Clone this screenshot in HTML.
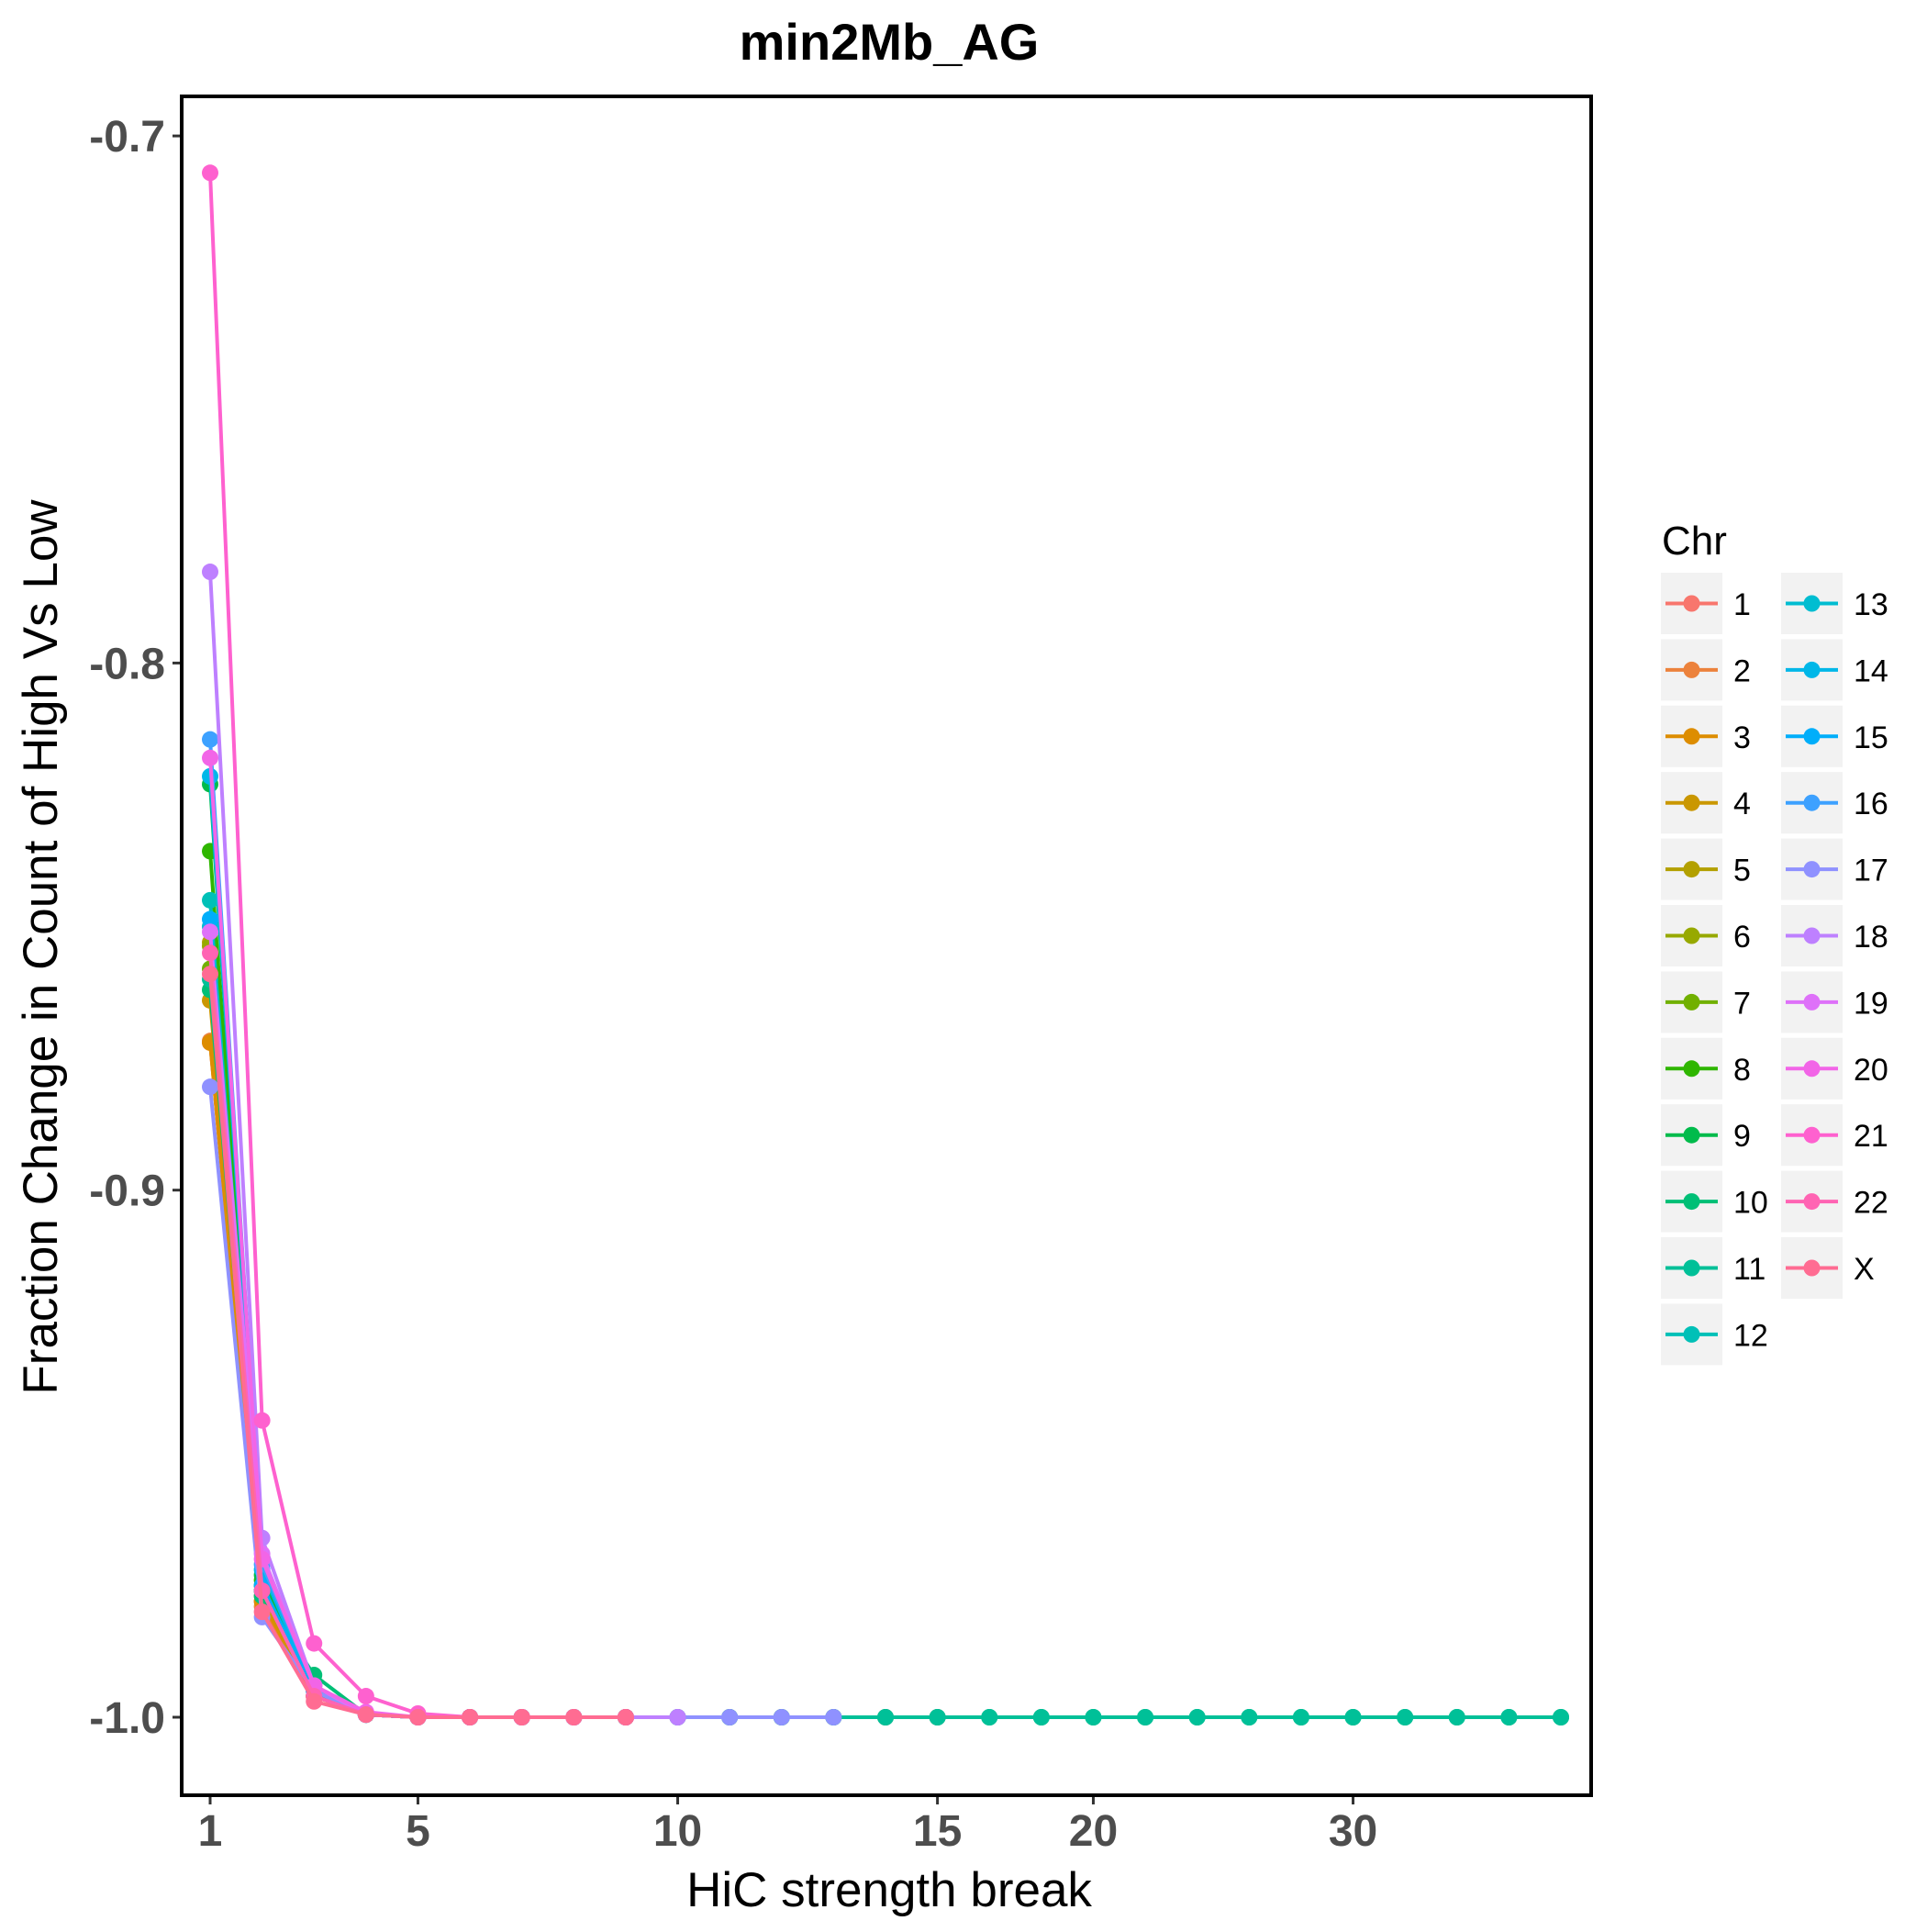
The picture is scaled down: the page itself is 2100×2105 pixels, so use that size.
<!DOCTYPE html>
<html><head><meta charset="utf-8"><style>
html,body{margin:0;padding:0;background:#fff;}
svg text{font-family:"Liberation Sans",sans-serif;}
</style></head><body>
<svg id="chart" width="2100" height="2100" viewBox="0 0 2100 2100" xmlns="http://www.w3.org/2000/svg">
<text x="969" y="65" text-anchor="middle" font-size="56" font-weight="bold">min2Mb_AG</text>
<g id="plot"></g>
<text x="969" y="2077" text-anchor="middle" font-size="53">HiC strength break</text>
<text transform="translate(62,1032) rotate(-90)" text-anchor="middle" font-size="53">Fraction Change in Count of High Vs Low</text>
<g id="legend"></g>
</svg>
<script>
const categories = ["1","2","3","4","5","6","7","8","9","10","11","12","13","14","15","16","18","20","22","24","26","28","30","32","34","36","38"];
const xTickLabels = ["1","5","10","15","20","30"];
const yTicks = [-0.7,-0.8,-0.9,-1.0];
const yTickLabels = ["-0.7","-0.8","-0.9","-1.0"];
const chrNames = ["1","2","3","4","5","6","7","8","9","10","11","12","13","14","15","16","17","18","19","20","21","22","X"];
const v1 = [-0.872,-0.978,-0.996,-0.9995,-1,-1,-1,-1,-1,-1,-1,-1,-1,-1,-1];
const v2 = [-0.8717,-0.979,-0.996,-0.9995,-1,-1,-1,-1,-1];
const v3 = [-0.872,-0.978,-0.996,-0.9995,-1,-1,-1,-1,-1];
const v4 = [-0.864,-0.977,-0.996,-0.9995,-1,-1,-1,-1,-1];
const v5 = [-0.853,-0.976,-0.995,-0.9995,-1,-1,-1,-1,-1];
const v6 = [-0.8537,-0.976,-0.995,-0.9995,-1,-1,-1,-1,-1];
const v7 = [-0.858,-0.975,-0.995,-0.9995,-1,-1,-1,-1,-1];
const v8 = [-0.8357,-0.974,-0.995,-0.9995,-1,-1,-1,-1,-1];
const v9 = [-0.823,-0.973,-0.994,-0.9995,-1,-1,-1,-1,-1];
const v10 = [-0.862,-0.977,-0.992,-0.9995,-1,-1,-1,-1,-1,-1,-1,-1,-1,-1,-1,-1,-1,-1,-1,-1,-1,-1,-1,-1,-1,-1,-1];
const v11 = [-0.86,-0.976,-0.995,-0.9995,-1,-1,-1,-1,-1,-1,-1,-1,-1,-1,-1,-1,-1,-1,-1,-1,-1,-1,-1,-1,-1,-1,-1];
const v12 = [-0.845,-0.975,-0.995,-0.9995,-1,-1,-1,-1,-1];
const v13 = [-0.85,-0.976,-0.995,-0.9995,-1,-1,-1,-1,-1];
const v14 = [-0.8215,-0.972,-0.995,-0.9995,-1,-1,-1,-1,-1];
const v15 = [-0.8486,-0.975,-0.995,-0.9995,-1,-1,-1,-1,-1];
const v16 = [-0.8145,-0.971,-0.994,-0.9995,-1,-1,-1,-1,-1];
const v17 = [-0.8804,-0.981,-0.995,-0.9995,-1,-1,-1,-1,-1,-1,-1,-1,-1];
const v18 = [-0.7827,-0.966,-0.994,-0.9995,-1,-1,-1,-1,-1,-1];
const v19 = [-0.851,-0.969,-0.994,-0.9995,-1,-1,-1,-1,-1];
const v20 = [-0.818,-0.97,-0.994,-0.999,-1,-1,-1,-1,-1];
const v21 = [-0.707,-0.9437,-0.986,-0.996,-0.9993,-1,-1,-1,-1];
const v22 = [-0.855,-0.976,-0.996,-0.9995,-1,-1,-1,-1,-1];
const vX = [-0.859,-0.98,-0.997,-0.9995,-1,-1,-1,-1,-1];
const seriesValues = [v1,v2,v3,v4,v5,v6,v7,v8,v9,v10,v11,v12,v13,v14,v15,v16,v17,v18,v19,v20,v21,v22,vX];

const NS="http://www.w3.org/2000/svg";
const P={l:198,r:1734,t:105,b:1956};
const x0=229, xStep=(1701-229)/26;
function xScale(i){return x0+i*xStep;}
function yScale(v){return 1871+(v+1.0)*(-5743);}
function hcl(h,c,l){
  const hr=h*Math.PI/180, U=c*Math.cos(hr), V=c*Math.sin(hr);
  const Y=l>8?Math.pow((l+16)/116,3):l/903.3;
  const un=0.1978398,vn=0.4683363;
  const u=U/(13*l)+un, v=V/(13*l)+vn;
  const X=9*Y*u/(4*v), Z=-X/3-5*Y+3*Y/v;
  let r=3.240479*X-1.53715*Y-0.498535*Z, g=-0.969256*X+1.875992*Y+0.041556*Z, b=0.055648*X-0.204043*Y+1.057311*Z;
  const f=t=>{t=t<=0.0031308?12.92*t:1.055*Math.pow(t,1/2.4)-0.055;return Math.round(Math.max(0,Math.min(1,t))*255);};
  return "rgb("+f(r)+","+f(g)+","+f(b)+")";
}
const n=chrNames.length;
const colors=chrNames.map((_,i)=>hcl(15+i*360/(n),100,65));
function mk(tag,attrs,parent){const e=document.createElementNS(NS,tag);for(const k in attrs)e.setAttribute(k,attrs[k]);parent.appendChild(e);return e;}
const plot=document.getElementById('plot');
const frame=mk('rect',{x:P.l,y:P.t,width:P.r-P.l,height:P.b-P.t,fill:'#fff',stroke:'none'},plot);


yTicks.forEach((v,i)=>{
  const y=yScale(v);
  const t=mk('line',{x1:P.l-10,x2:P.l,y1:y,y2:y,stroke:'#333','stroke-width':3},plot);
  
  
  const tx=mk('text',{x:P.l-18,y:y+17,'text-anchor':'end','font-size':48,'font-weight':'bold',fill:'#4d4d4d'},plot);
  
  
  tx.textContent=yTickLabels[i];
});
xTickLabels.forEach(lab=>{
  const i=categories.indexOf(lab);
  const x=xScale(i);
  const t=mk('line',{x1:x,x2:x,y1:P.b,y2:P.b+10,stroke:'#333','stroke-width':3},plot);
  
  
  const tx=mk('text',{x:x,y:P.b+55,'text-anchor':'middle','font-size':48,'font-weight':'bold',fill:'#4d4d4d'},plot);
  
  
  tx.textContent=lab;
});
seriesValues.forEach((vals,s)=>{
  const g=mk('g',{},plot);
  
  
  const pts=vals.map((v,i)=>xScale(i)+','+yScale(v)).join(' ');
  const pl=mk('polyline',{points:pts,fill:'none',stroke:colors[s],'stroke-width':4,'stroke-linejoin':'round'},g);
  
  
  vals.forEach((v,i)=>{
    const c=mk('circle',{cx:xScale(i),cy:yScale(v),r:9,fill:colors[s]},g);
    
    
  });
});
const border=mk('rect',{x:P.l,y:P.t,width:P.r-P.l,height:P.b-P.t,fill:'none',stroke:'#000','stroke-width':4},plot);


const leg=document.getElementById('legend');
const lt=mk('text',{x:1811,y:604,'font-size':44},leg);


lt.textContent='Chr';
chrNames.forEach((name,i)=>{
  const col=i<12?0:1, row=i<12?i:i-12;
  const bx=col?1941:1810, by=624+row*72.4;
  const g=mk('g',{},leg);
  
  
  mk('rect',{x:bx,y:by,width:67,height:67,fill:'#f2f2f2'},g);
  mk('line',{x1:bx+5,x2:bx+62,y1:by+33.5,y2:by+33.5,stroke:colors[i],'stroke-width':4},g);
  mk('circle',{cx:bx+33.5,cy:by+33.5,r:9,fill:colors[i]},g);
  const t=mk('text',{x:bx+79,y:by+46,'font-size':34},g);
  t.textContent=name;
});
</script>
</body></html>
